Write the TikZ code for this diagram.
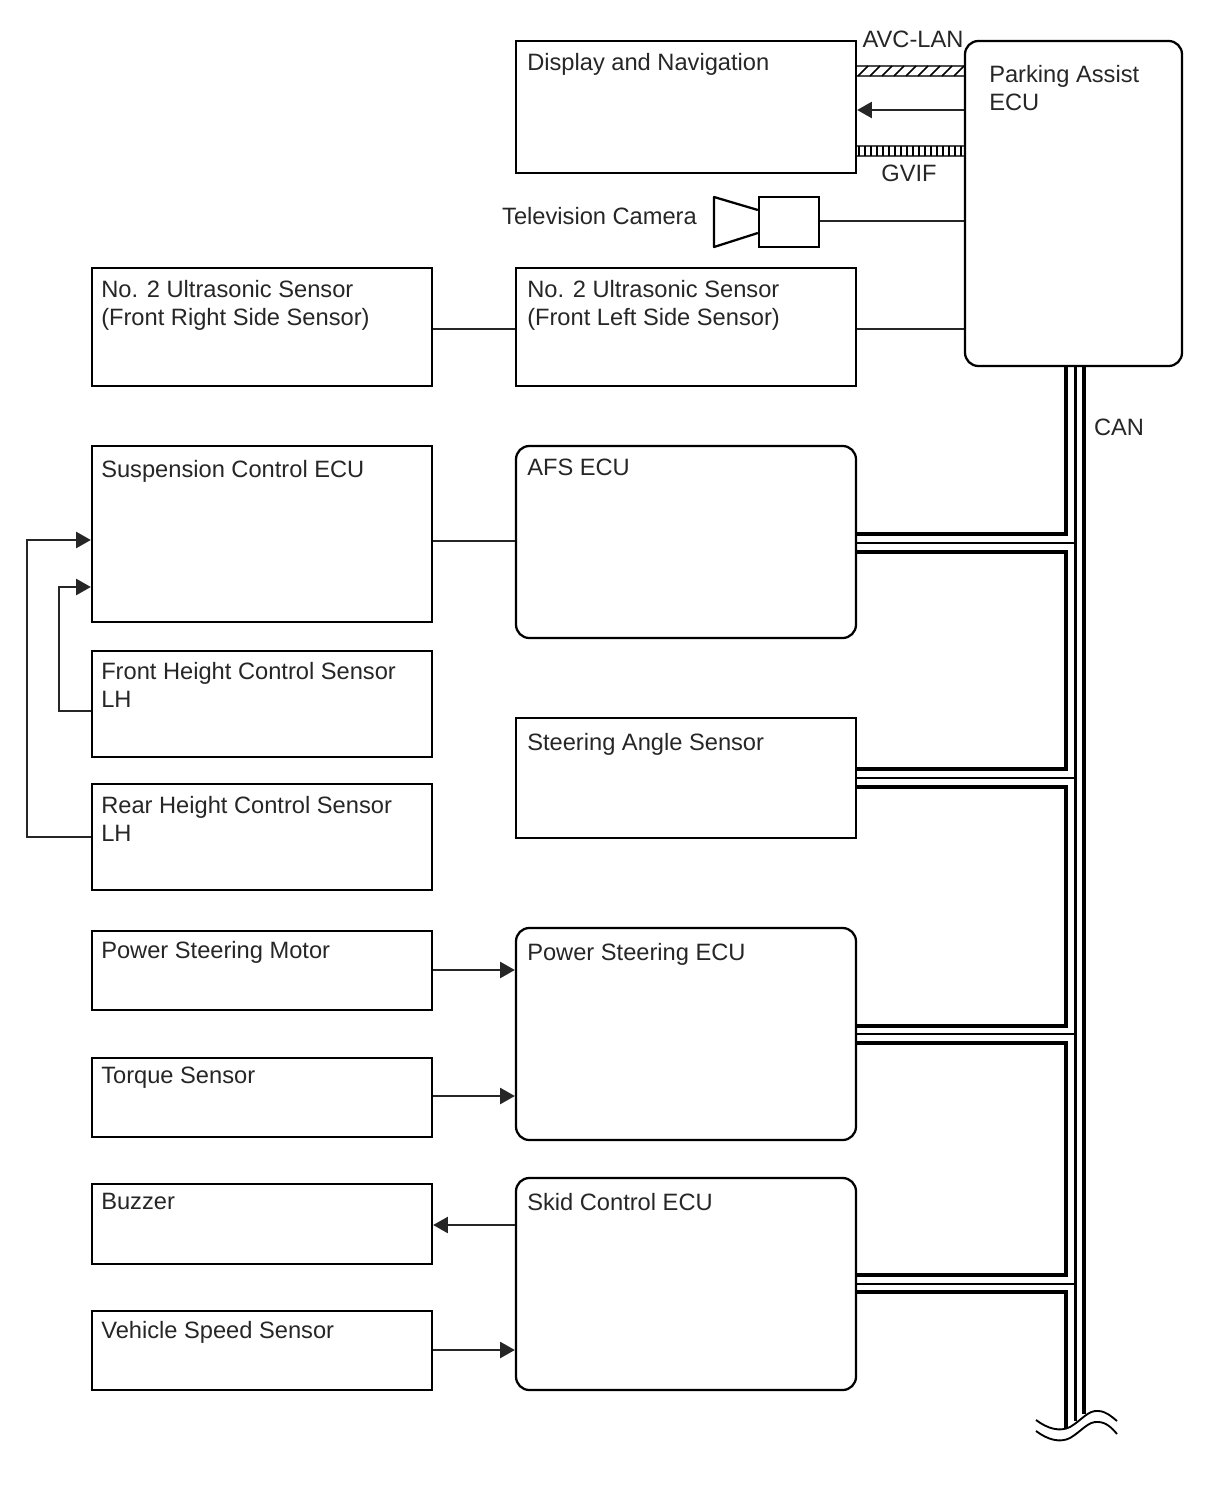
\documentclass[tikz,border=0pt]{standalone}
\usepackage{fontspec}
\setmainfont{Liberation Sans}
\usetikzlibrary{arrows.meta}
\begin{document}
\begin{tikzpicture}[
    x=0.75pt, y=-0.75pt,
    box/.style 2 args={rectangle, draw, line width=1.7pt, inner sep=0pt, minimum width=#1*0.75pt, minimum height=#2*0.75pt},
    ecubox/.style 2 args={box={#1}{#2}, rounded corners=10pt},
    lab/.style={anchor=north west, inner sep=0pt, align=left, text=black!85, font=\fontsize{17.75}{21}\selectfont},
    tag/.style={inner sep=0pt, text=black!85, font=\fontsize{17.75}{21}\selectfont},
    link/.style={line width=1.5pt, draw=black!85},
    arrow/.style={link, -{Triangle[length=11pt, width=12pt]}},
    bus/.style={line width=3pt, line join=miter},
    busthin/.style={line width=2.2pt},
    cover/.style={line width=1.6pt, draw=black!70},
    wave/.style={line width=1.4pt}
]
\useasboundingbox (0,0) rectangle (1210,1498);

% Top row
\node[box={340}{132}] (dn) at (686,107) {};
\node[ecubox={217}{325}] (ecu) at (1073.5,203.5) {};
\node[box={60}{50}] (cam) at (789,222) {};
\node[lab] at (527,53) {Display and Navigation};
\node[lab] at (989,65) {Parking Assist\\ECU};
\node[tag] (avc) at (913,39) {AVC-LAN};
\node[tag] (gvif) at (909,173) {GVIF};
\node[tag] (tv) at (599.5,216) {Television Camera};

% Camera horn
\draw[line width=1.7pt, line join=round] (cam.west |- 0,210) -- (714,197) -- (714,247) -- (cam.west |- 0,233);

% Sensors
\node[box={340}{118}] (usr) at (262,327) {};
\node[box={340}{118}] (usl) at (686,327) {};
\node[lab] at (101,280) {No. 2 Ultrasonic Sensor\\(Front Right Side Sensor)};
\node[lab] at (527,280) {No. 2 Ultrasonic Sensor\\(Front Left Side Sensor)};

\node[box={340}{176}] (susp) at (262,534) {};
\node[ecubox={340}{192}] (afs) at (686,542) {};
\node[box={340}{106}] (fh) at (262,704) {};
\node[box={340}{106}] (rh) at (262,837) {};
\node[box={340}{120}] (steer) at (686,778) {};
\node[lab] at (101,460) {Suspension Control ECU};
\node[lab] at (527,459) {AFS ECU};
\node[lab] at (101,662) {Front Height Control Sensor\\LH};
\node[lab] at (101,796) {Rear Height Control Sensor\\LH};
\node[lab] at (527,733) {Steering Angle Sensor};

\node[box={340}{79}] (psm) at (262,970.5) {};
\node[box={340}{79}] (tq) at (262,1097.5) {};
\node[ecubox={340}{212}] (psecu) at (686,1034) {};
\node[box={340}{80}] (bz) at (262,1224) {};
\node[box={340}{79}] (vs) at (262,1350.5) {};
\node[ecubox={340}{212}] (skid) at (686,1284) {};
\node[lab] at (101,941) {Power Steering Motor};
\node[lab] at (101,1067) {Torque Sensor};
\node[lab] at (527,943) {Power Steering ECU};
\node[lab] at (101,1193) {Buzzer};
\node[lab] at (101,1321) {Vehicle Speed Sensor};
\node[lab] at (527,1193) {Skid Control ECU};
\node[tag] (can) at (1119,427) {CAN};

% AVC-LAN and GVIF
\draw[cover] (dn.east |- 0,66) -- (ecu.west |- 0,66);
\draw[cover] (dn.east |- 0,76) -- (ecu.west |- 0,76);
\foreach \x in {858,870,...,954}
    \draw[line width=1.1pt] (\x,76) -- (\x+10,66);
\draw[cover] (dn.east |- 0,146) -- (ecu.west |- 0,146);
\draw[cover] (dn.east |- 0,156) -- (ecu.west |- 0,156);
\foreach \x in {859,865,...,963}
    \draw[line width=1.2pt] (\x,146) -- (\x,156);
\draw[arrow] (ecu.west |- 0,110) -- (dn.east |- 0,110);

% Links
\draw[link] (cam.east |- 0,221) -- (ecu.west |- 0,221);
\draw[link] (usl.east |- 0,329) -- (ecu.west |- 0,329);
\draw[link] (usr.east |- 0,329) -- (usl.west |- 0,329);
\draw[link] (susp.east |- 0,541) -- (afs.west |- 0,541);
\draw[arrow] (rh.west) -- (27,837) -- (27,540) -- (susp.west |- 0,540);
\draw[arrow] (fh.west |- 0,711) -- (59,711) -- (59,587) -- (susp.west |- 0,587);
\draw[arrow] (psm.east |- 0,970) -- (psecu.west |- 0,970);
\draw[arrow] (tq.east |- 0,1096) -- (psecu.west |- 0,1096);
\draw[arrow] (skid.west |- 0,1225) -- (bz.east |- 0,1225);
\draw[arrow] (vs.east |- 0,1350) -- (skid.west |- 0,1350);

% CAN bus
\coordinate (busl) at (1066,1428);
\coordinate (busm) at (1075.5,1421);
\coordinate (busr) at (1084,1414);
\draw[busthin] (busm |- ecu.south) -- (busm);
\draw[bus] (busr |- ecu.south) -- (busr);
\draw[bus] (busl |- ecu.south) |- (afs.east |- 0,534);
\foreach \n/\m/\bt/\tp in {afs/steer/552/769, steer/psecu/787/1026, psecu/skid/1043/1275}
    \draw[bus] (\n.east |- 0,\bt) -- (busl |- 0,\bt) -- (busl |- 0,\tp) -- (\m.east |- 0,\tp);
\foreach \n/\cn in {afs/543, steer/778, psecu/1034, skid/1284}
    \draw[busthin] (\n.east |- 0,\cn) -- (busm |- 0,\cn);
\draw[bus] (skid.east |- 0,1292) -| (busl);

% Break
\draw[wave] (1036,1420) .. controls (1048,1429) and (1060,1432) .. (1070,1427) .. controls (1082,1420) and (1088,1410) .. (1098,1411) .. controls (1106,1411) and (1112,1417) .. (1117,1421);
\draw[wave] (1036,1431) .. controls (1048,1440) and (1060,1443) .. (1070,1438) .. controls (1082,1431) and (1088,1421) .. (1098,1422) .. controls (1106,1422) and (1112,1428) .. (1117,1434);
\end{tikzpicture}
\end{document}
